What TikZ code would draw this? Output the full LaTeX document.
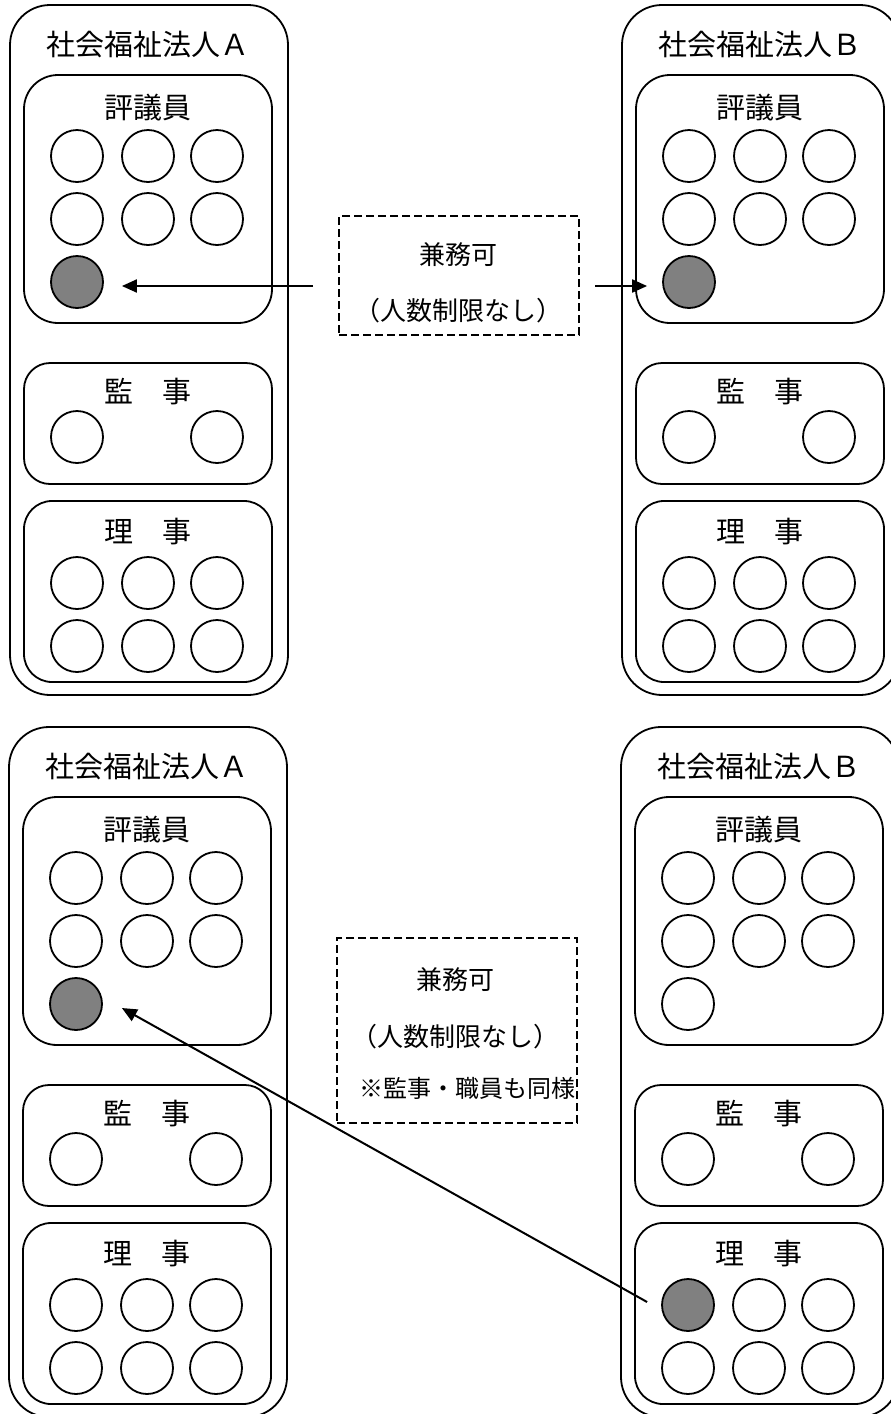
\documentclass[tikz,border=0pt]{standalone}
\usepackage{fontspec}
\setmainfont{Noto Sans CJK JP}
\usetikzlibrary{arrows.meta}
\tikzset{
  x=1pt, y=-1pt,
  lw/.style={line width=1.8pt},
  outerbox/.style={draw, lw, rectangle, rounded corners=40pt, minimum width=278pt, minimum height=690pt, inner sep=0pt},
  innerbox/.style={draw, lw, rectangle, rounded corners=34pt, minimum width=248pt, inner sep=0pt},
  member/.style={draw, lw, circle, minimum size=52pt, inner sep=0pt, fill=white},
  graymember/.style={fill=gray50},
  titletext/.style={font=\fontsize{29pt}{31pt}\selectfont, inner sep=0pt},
  labeltext/.style={font=\fontsize{29pt}{31pt}\selectfont, inner sep=0pt},
  dashtext/.style={font=\fontsize{26pt}{28pt}\selectfont, inner sep=0pt},
  notetext/.style={font=\fontsize{24pt}{26pt}\selectfont, inner sep=0pt},
  dashbox/.style={draw, line width=1.6pt, dash pattern=on 8pt off 4pt, rectangle, minimum width=240pt, inner sep=0pt},
  arr/.style={line width=2pt, -{Triangle[length=15pt,width=13pt]}}
}
\definecolor{gray50}{HTML}{808080}
\newcommand\orgpanel[5]{%
\begin{scope}[shift={(#3)}]
\node[outerbox] (#1-outer) at (149,350) {};
\node[titletext] (#1-title) at (148,45) {社会福祉法人#2};
\node[innerbox, minimum height=248pt] (#1-hbox) at (148,199) {};
\node[labeltext] (#1-hlabel) at (148,108) {評議員};
\foreach \i/\xx/\yy in {1/77/156,2/148/156,3/217/156,4/77/219,5/148/219,6/217/219}
  \node[member] (#1-h\i) at (\xx,\yy) {};
\node[member,#4] (#1-h7) at (77,282) {};
\node[innerbox, minimum height=121pt, rounded corners=26pt] (#1-kbox) at (148,423.5) {};
\node[labeltext] (#1-klabel) at (148,392) {監　事};
\node[member] (#1-k1) at (77,437) {};
\node[member] (#1-k2) at (217,437) {};
\node[innerbox, minimum height=181pt, rounded corners=28pt] (#1-rbox) at (148,591.5) {};
\node[labeltext] (#1-rlabel) at (148,532) {理　事};
\node[member,#5] (#1-r1) at (77,583) {};
\foreach \i/\xx/\yy in {2/148/583,3/217/583,4/77/646,5/148/646,6/217/646}
  \node[member] (#1-r\i) at (\xx,\yy) {};
\end{scope}}
\begin{document}
\begin{tikzpicture}
\useasboundingbox (0,0) rectangle (891,1414);
\fill[white] (0,0) rectangle (891,1414);
% top panels
\orgpanel{tA}{Ａ}{0,0}{graymember}{}
\orgpanel{tB}{Ｂ}{612,0}{graymember}{}
% bottom panels
\orgpanel{bA}{Ａ}{-1,722}{graymember}{}
\orgpanel{bB}{Ｂ}{611,722}{}{graymember}
% top dashed box
\node[dashbox, minimum height=119pt] (d1) at (459,275.5) {};
\node[dashtext] (d1t1) at (458,255) {兼務可};
\node[dashtext] (d1t2) at (458,311) {（人数制限なし）};
\coordinate (la) at (313,286);
\coordinate (ra) at (595,286);
\draw[arr] (la) -- ([xshift=18pt]tA-h7.east |- la);
\draw[arr] (ra) -- ([xshift=-15pt]tB-h7.west |- ra);
% bottom dashed box
\node[dashbox, minimum height=185pt] (d2) at (457,1030.5) {};
\node[dashtext] (d2t1) at (455,980) {兼務可};
\node[dashtext] (d2t2) at (455,1037) {（人数制限なし）};
\node[notetext] (d2t3) at (467,1088) {※監事・職員も同様};
\coordinate (bs) at ([xshift=-14pt,yshift=3pt]bB-r1.west);
\coordinate (be) at ([xshift=19pt,yshift=-4pt]bA-h7.east);
\draw[arr] (bs) -- (be);
\end{tikzpicture}
\end{document}
